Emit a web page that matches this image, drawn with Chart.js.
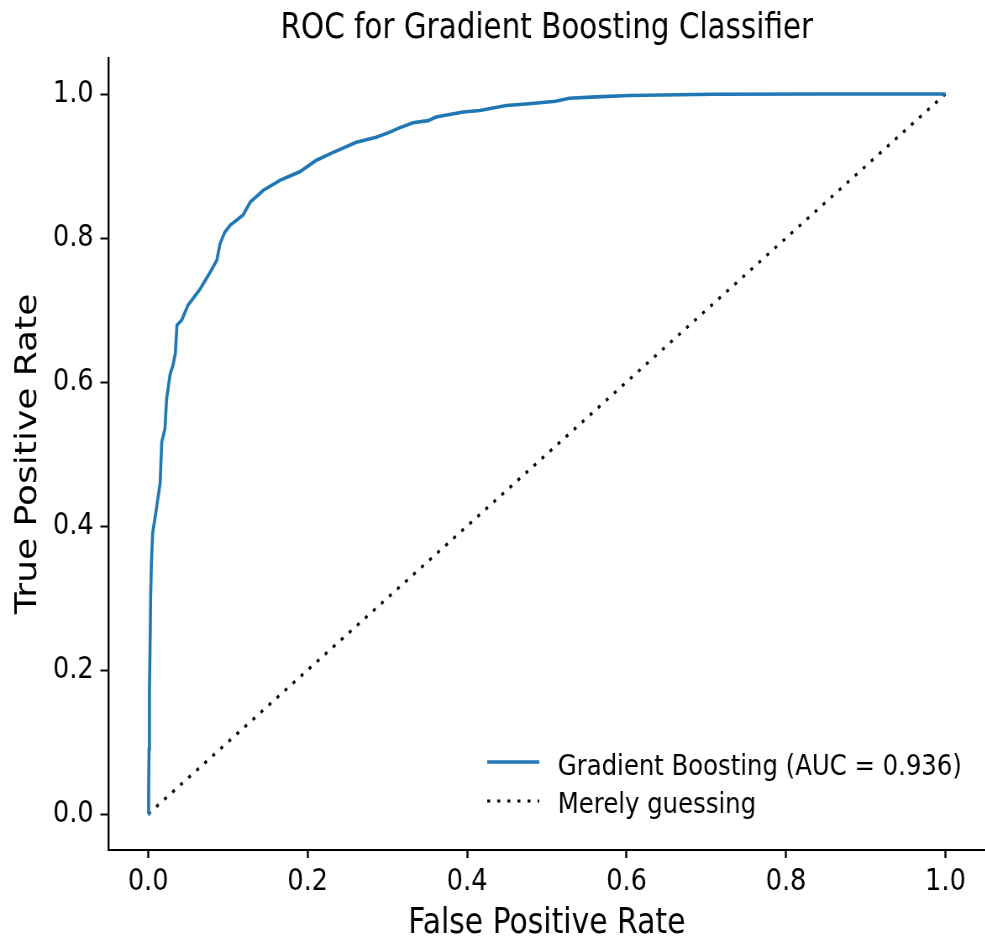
<!DOCTYPE html>
<html>
<head>
<meta charset="utf-8">
<script src="https://cdn.jsdelivr.net/npm/chart.js@4.4.1/dist/chart.umd.min.js"></script>
<style>
  html, body { margin: 0; padding: 0; overflow: hidden; background: #fff; }
  #roc { display: block; transform: scaleX(0.84); transform-origin: 0 0; }
</style>
</head>
<body>
<canvas id="roc" width="1173" height="938"></canvas>
<script>
// ROC curve points (false positive rate / true positive rate)
const fpr = [0, 0.0005, 0.001, 0.0015, 0.0025, 0.003, 0.004, 0.0055, 0.009, 0.013,
  0.015, 0.017, 0.021, 0.023, 0.0275, 0.031, 0.034, 0.036, 0.042, 0.05,
  0.065, 0.078, 0.086, 0.09, 0.096, 0.103, 0.119, 0.128, 0.144, 0.165,
  0.19, 0.211, 0.232, 0.261, 0.286, 0.303, 0.315, 0.332, 0.351, 0.361,
  0.395, 0.416, 0.449, 0.478, 0.511, 0.528, 0.562, 0.603, 0.666, 0.707,
  0.849, 1.0];
const tpr = [0, 0.03, 0.09, 0.17, 0.25, 0.30, 0.35, 0.39, 0.415, 0.445,
  0.46, 0.517, 0.535, 0.576, 0.611, 0.623, 0.64, 0.679, 0.686, 0.707,
  0.729, 0.753, 0.769, 0.792, 0.808, 0.818, 0.832, 0.85, 0.866, 0.88,
  0.892, 0.908, 0.919, 0.933, 0.940, 0.947, 0.953, 0.960, 0.963, 0.968,
  0.975, 0.977, 0.984, 0.9865, 0.990, 0.994, 0.996, 0.998, 0.999, 0.9996,
  1.0, 1.0];

// chance line
const guessX = [0, 1];
const guessY = [0, 1];

const tickValues = [0, 0.2, 0.4, 0.6, 0.8, 1.0];
const tickLabels = ['0.0', '0.2', '0.4', '0.6', '0.8', '1.0'];

const aucLabel = 'Gradient Boosting (AUC = 0.936)';
const guessLabel = 'Merely guessing';
const FONT = "'DejaVu Sans', sans-serif";

const toPoints = (xs, ys) => xs.map((x, i) => ({ x: x, y: ys[i] }));

// title centred over the axes, not the whole canvas
const plotTitle = {
  id: 'plotTitle',
  afterDraw(chart) {
    const { ctx, chartArea } = chart;
    ctx.save();
    ctx.font = '35px ' + FONT;
    ctx.fillStyle = '#000';
    ctx.textAlign = 'center';
    ctx.textBaseline = 'alphabetic';
    ctx.fillText('ROC for Gradient Boosting Classifier', (chartArea.left + chartArea.right) / 2, 38);
    ctx.restore();
  }
};

// legend sitting in the lower right corner of the axes
const cornerLegend = {
  id: 'cornerLegend',
  afterDraw(chart) {
    const { ctx, chartArea } = chart;
    const x0 = chartArea.right - 593;
    const lineY = [762, 801];
    const textY = [775, 813];
    ctx.save();
    ctx.font = '29px ' + FONT;
    ctx.textBaseline = 'alphabetic';
    ctx.textAlign = 'left';
    chart.data.datasets.forEach((ds, i) => {
      ctx.strokeStyle = ds.borderColor;
      ctx.lineWidth = ds.borderWidth;
      ctx.setLineDash(ds.borderDash || []);
      ctx.lineCap = 'butt';
      ctx.beginPath();
      ctx.moveTo(x0, lineY[i]);
      ctx.lineTo(x0 + 62, lineY[i]);
      ctx.stroke();
      ctx.setLineDash([]);
      ctx.fillStyle = '#000';
      ctx.fillText(ds.label, x0 + 84, textY[i]);
    });
    ctx.restore();
  }
};

new Chart(document.getElementById('roc'), {
  type: 'line',
  data: {
    datasets: [{
      label: aucLabel,
      data: toPoints(fpr, tpr),
      borderColor: '#1f77b4',
      borderWidth: 3.6,
      pointRadius: 0,
      tension: 0,
      fill: false
    },
    {
      label: guessLabel,
      data: toPoints(guessX, guessY),
      borderColor: '#000',
      borderWidth: 3.2,
      borderDash: [3.5, 8.5],
      pointRadius: 0,
      fill: false
    }]
  },
  options: {
    responsive: false,
    animation: false,
    devicePixelRatio: 1,
    layout: { padding: { top: 58, right: 0, bottom: 0, left: 0 } },
    plugins: {
      legend: { display: false },
      tooltip: { enabled: false }
    },
    scales: {
      x: {
        type: 'linear',
        min: -0.05,
        max: 1.05,
        afterBuildTicks: s => { s.ticks = tickValues.map(v => ({ value: v })); },
        afterFit: s => { s.height = 88; },
        grid: { drawOnChartArea: false, drawTicks: true, tickLength: 8, tickWidth: 2.4, tickColor: '#000' },
        border: { display: true, color: '#000', width: 2 },
        ticks: {
          color: '#000',
          padding: 6,
          maxRotation: 0,
          font: { family: FONT, size: 30.5, lineHeight: 1.2 },
          callback: (v, i) => tickLabels[i]
        },
        title: {
          display: true,
          text: 'False Positive Rate',
          color: '#000',
          padding: 0,
          font: { family: FONT, size: 35.5, lineHeight: 0.8 }
        }
      },
      y: {
        type: 'linear',
        min: -0.05,
        max: 1.05,
        afterBuildTicks: s => { s.ticks = tickValues.map(v => ({ value: v })); },
        afterFit: s => { s.width = 129; },
        grid: { drawOnChartArea: false, drawTicks: true, tickLength: 9.5, tickWidth: 2, tickColor: '#000' },
        border: { display: true, color: '#000', width: 2.4 },
        ticks: {
          color: '#000',
          padding: 8,
          font: { family: FONT, size: 30.5, lineHeight: 1.2 },
          callback: (v, i) => tickLabels[i]
        },
        title: {
          display: true,
          text: 'True Positive Rate',
          color: '#000',
          padding: { top: 12, bottom: 0 },
          font: { family: FONT, size: 36, lineHeight: 1.2 }
        }
      }
    }
  },
  plugins: [plotTitle, cornerLegend]
});
</script>
</body>
</html>
